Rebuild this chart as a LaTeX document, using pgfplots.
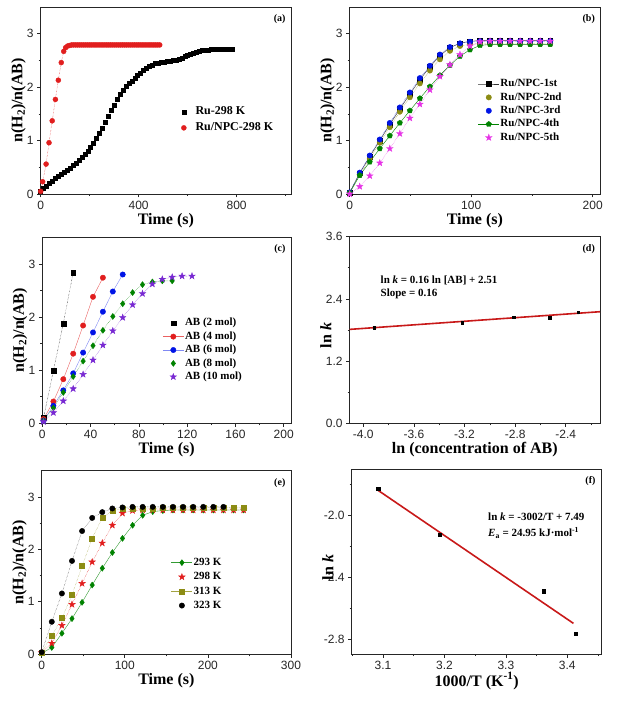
\documentclass[border=0pt]{standalone}
\usepackage{fontspec}
\setmainfont{Liberation Serif}
\newfontfamily\arial{Liberation Sans}
\usepackage{pgfplots}
\pgfplotsset{compat=1.18}
\usetikzlibrary{plotmarks}
\definecolor{cRed}{RGB}{225,30,30}
\definecolor{cOlive}{RGB}{140,140,20}
\definecolor{cBlue}{RGB}{0,20,230}
\definecolor{cGreen}{RGB}{0,130,0}
\definecolor{cMag}{RGB}{230,50,230}
\definecolor{cPurp}{RGB}{120,40,210}
\definecolor{cLine}{RGB}{200,25,25}
\pgfdeclareplotmark{fstar}{%
  \pgfpathmoveto{\pgfpointpolar{90}{1.25\pgfplotmarksize}}%
  \pgfpathlineto{\pgfpointpolar{126}{0.5\pgfplotmarksize}}%
  \pgfpathlineto{\pgfpointpolar{162}{1.25\pgfplotmarksize}}%
  \pgfpathlineto{\pgfpointpolar{198}{0.5\pgfplotmarksize}}%
  \pgfpathlineto{\pgfpointpolar{234}{1.25\pgfplotmarksize}}%
  \pgfpathlineto{\pgfpointpolar{270}{0.5\pgfplotmarksize}}%
  \pgfpathlineto{\pgfpointpolar{306}{1.25\pgfplotmarksize}}%
  \pgfpathlineto{\pgfpointpolar{342}{0.5\pgfplotmarksize}}%
  \pgfpathlineto{\pgfpointpolar{18}{1.25\pgfplotmarksize}}%
  \pgfpathlineto{\pgfpointpolar{54}{0.5\pgfplotmarksize}}%
  \pgfpathclose\pgfusepathqfillstroke}
\tikzset{plab/.style={font=\fontsize{10}{12}\selectfont\bfseries, anchor=center}}
\pgfplotsset{
  panel/.style={
    scale only axis, anchor=south west, clip=false,
    axis line style={line width=0.8pt, black!85},
    tick align=outside, xtick pos=bottom, ytick pos=left,
    major tick length=3.5pt, minor tick length=2pt,
    every tick/.style={black!85, line width=0.7pt},
    tick label style={font=\arial\fontsize{12}{13}\selectfont, text=black!85},
    /pgf/number format/assume math mode=true,
    every axis x label/.style={at={(axis description cs:0.5,0)}, yshift=-30.5pt, anchor=base,
      font=\fontsize{16}{18}\selectfont\bfseries},
    every axis y label/.style={at={(axis description cs:0,0.5)}, xshift=-18.4pt, rotate=90, anchor=base,
      font=\fontsize{16}{18}\selectfont\bfseries},
    legend style={draw=none, fill=none, font=\fontsize{11}{12}\selectfont\bfseries,
      inner sep=0pt, row sep=3pt,
      nodes={inner sep=1pt, text height=7.5pt, text depth=2pt}},
    legend cell align=left,
  },
  lineleg/.style={legend image code/.code={\draw[mark repeat=2,mark phase=2,solid] plot coordinates {(0pt,0pt)(10.5pt,0pt)(21pt,0pt)};}},
  markleg/.style={legend image code/.code={\draw[only marks] plot coordinates {(10.5pt,0pt)};\path (0pt,0pt) (21pt,0pt);}},
}
\begin{document}
\begin{tikzpicture}[x=1pt,y=1pt]
\useasboundingbox (0,0) rectangle (618,702);
% ---------------- (a)
\begin{axis}[panel, at={(40.7pt,508pt)}, width=250.3pt, height=187pt,
  xmin=0, xmax=1022, ymin=0, ymax=3.5,
  xtick={0,400,800}, minor xtick={200,600,1000},
  ytick={0,1,2,3}, minor ytick={0.5,1.5,2.5},
  xlabel={Time (s)}, ylabel={n(H\textsubscript{2})/n(AB)},
  legend style={at={(axis cs:540,1.645)}, anchor=north west, row sep=4.3pt},
  legend style={font=\fontsize{12}{13}\selectfont\bfseries}]
\addplot[markleg, draw=none, mark=square*, mark size=2pt, black] coordinates {
(0,0.06)(12,0.10)(24,0.15)(36,0.20)(48,0.24)(60,0.29)(72,0.33)(84,0.37)(96,0.41)(108,0.45)(120,0.49)(132,0.53)(144,0.58)(156,0.63)(168,0.68)(180,0.74)(192,0.80)(204,0.87)(216,0.95)(228,1.04)(240,1.14)(252,1.24)(264,1.34)(276,1.45)(288,1.56)(300,1.67)(312,1.77)(324,1.86)(336,1.94)(348,2.01)(360,2.07)(372,2.12)(384,2.17)(396,2.22)(408,2.27)(420,2.31)(432,2.35)(444,2.39)(456,2.42)(468,2.44)(480,2.45)(492,2.46)(504,2.47)(516,2.48)(528,2.49)(540,2.50)(552,2.51)(564,2.53)(576,2.55)(588,2.57)(600,2.59)(612,2.61)(624,2.63)(636,2.66)(648,2.68)(660,2.69)(672,2.70)(684,2.70)(696,2.71)(708,2.71)(720,2.71)(732,2.71)(744,2.71)(756,2.71)(768,2.71)(780,2.71)};
\addlegendentry{Ru-298 K}
\addplot[markleg, cRed, densely dotted, thin, mark=*, mark size=2.5pt, mark options={solid}] coordinates {
(0,0.05)(8,0.23)(22,0.56)(34,0.96)(47,1.37)(60,1.77)(72,2.13)(84,2.46)(94,2.67)(102,2.74)(110,2.77)(118,2.78)(126,2.79)(134,2.79)(142,2.79)(150,2.79)(158,2.79)(166,2.79)(174,2.79)(182,2.79)(190,2.79)(198,2.79)(206,2.79)(214,2.79)(222,2.79)(230,2.79)(238,2.79)(246,2.79)(254,2.79)(262,2.79)(270,2.79)(278,2.79)(286,2.79)(294,2.79)(302,2.79)(310,2.79)(318,2.79)(326,2.79)(334,2.79)(342,2.79)(350,2.79)(358,2.79)(366,2.79)(374,2.79)(382,2.79)(390,2.79)(398,2.79)(406,2.79)(414,2.79)(422,2.79)(430,2.79)(438,2.79)(446,2.79)(454,2.79)(462,2.79)(470,2.79)(478,2.79)(486,2.79)};
\addlegendentry{Ru/NPC-298 K}
\node[plab] at (rel axis cs:0.955,0.935) {(a)};
\end{axis}
% ---------------- (b)
\begin{axis}[panel, at={(349.7pt,508pt)}, width=250.3pt, height=187pt,
  xmin=0, xmax=206, ymin=0, ymax=3.5,
  xtick={0,100,200}, minor xtick={50,150},
  ytick={0,1,2,3}, minor ytick={0.5,1.5,2.5},
  xlabel={Time (s)}, ylabel={n(H\textsubscript{2})/n(AB)},
  legend style={at={(axis cs:105.5,2.17)}, anchor=north west, row sep=1.9pt}]
\addplot[lineleg, black!80, thin, mark=square*, mark size=2.4pt, mark options={black}] coordinates {
(0,0.03)(8.25,0.39)(16.5,0.70)(24.75,1.00)(33,1.30)(41.25,1.59)(49.5,1.87)(57.75,2.14)(66,2.38)(74.25,2.59)(82.5,2.74)(90.75,2.82)(99,2.86)(107.25,2.87)(115.5,2.87)(123.75,2.87)(132,2.87)(140.25,2.87)(148.5,2.87)(156.75,2.87)(165,2.87)};
\addlegendentry{Ru/NPC-1st}
\addplot[markleg, cOlive, densely dotted, thin, mark=*, mark size=2.7pt, mark options={solid}] coordinates {
(0,0.02)(8.25,0.36)(16.5,0.66)(24.75,0.96)(33,1.25)(41.25,1.54)(49.5,1.81)(57.75,2.07)(66,2.31)(74.25,2.52)(82.5,2.68)(90.75,2.77)(99,2.80)(107.25,2.81)(115.5,2.81)(123.75,2.81)(132,2.81)(140.25,2.81)(148.5,2.81)(156.75,2.81)(165,2.81)};
\addlegendentry{Ru/NPC-2nd}
\addplot[markleg, cBlue, densely dotted, thin, mark=*, mark size=2.7pt, mark options={solid}] coordinates {
(0,0.03)(8.25,0.40)(16.5,0.72)(24.75,1.02)(33,1.33)(41.25,1.62)(49.5,1.90)(57.75,2.17)(66,2.40)(74.25,2.61)(82.5,2.75)(90.75,2.82)(99,2.85)(107.25,2.86)(115.5,2.86)(123.75,2.86)(132,2.86)(140.25,2.86)(148.5,2.86)(156.75,2.86)(165,2.86)};
\addlegendentry{Ru/NPC-3rd}
\addplot[lineleg, cGreen, thin, mark=pentagon*, mark size=2.8pt] coordinates {
(0,0.02)(8.25,0.35)(16.5,0.60)(24.75,0.85)(33,1.09)(41.25,1.33)(49.5,1.56)(57.75,1.79)(66,2.01)(74.25,2.22)(82.5,2.41)(90.75,2.58)(99,2.70)(107.25,2.78)(115.5,2.80)(123.75,2.80)(132,2.80)(140.25,2.80)(148.5,2.80)(156.75,2.80)(165,2.80)};
\addlegendentry{Ru/NPC-4th}
\addplot[markleg, cMag, densely dotted, thin, mark=fstar, mark size=2.7pt, mark options={solid}] coordinates {
(0,0.0)(8.25,0.14)(16.5,0.34)(24.75,0.58)(33,0.85)(41.25,1.13)(49.5,1.42)(57.75,1.68)(66,1.95)(74.25,2.20)(82.5,2.42)(90.75,2.61)(99,2.77)(107.25,2.85)(115.5,2.86)(123.75,2.86)(132,2.86)(140.25,2.86)(148.5,2.86)(156.75,2.86)(165,2.86)};
\addlegendentry{Ru/NPC-5th}
\node[plab] at (rel axis cs:0.955,0.935) {(b)};
\end{axis}
% ---------------- (c)
\begin{axis}[panel, at={(42.3pt,278.7pt)}, width=248.7pt, height=186pt,
  xmin=0, xmax=206, ymin=0, ymax=3.5,
  xtick={0,40,80,120,160,200}, minor xtick={20,60,100,140,180},
  ytick={0,1,2,3}, minor ytick={0.5,1.5,2.5},
  xlabel={Time (s)}, ylabel={n(H\textsubscript{2})/n(AB)},
  legend style={at={(axis cs:99.5,1.995)}, anchor=north west, row sep=1.9pt}]
\addplot[markleg, black, densely dotted, thin, mark=square*, mark size=2.4pt, mark options={solid}] coordinates {
(1,0.10)(9.2,0.99)(17.4,1.88)(25.6,2.84)};
\addlegendentry{AB (2 mol)}
\addplot[lineleg, cRed!70, thin, mark=*, mark size=2.7pt, mark options={cRed}] coordinates {
(1,0.08)(9.2,0.41)(17.4,0.83)(25.6,1.31)(33.8,1.84)(42,2.38)(50.2,2.74)};
\addlegendentry{AB (4 mol)}
\addplot[lineleg, cBlue!50, thin, mark=*, mark size=2.7pt, mark options={cBlue}] coordinates {
(1,0.05)(9.2,0.33)(17.4,0.62)(25.6,0.94)(33.8,1.33)(42,1.71)(50.2,2.10)(58.4,2.48)(66.6,2.80)};
\addlegendentry{AB (6 mol)}
\addplot[markleg, cGreen, densely dotted, thin, mark=diamond*, mark size=3pt, mark options={solid}] coordinates {
(1,0.05)(9.2,0.29)(17.4,0.58)(25.6,0.88)(33.8,1.17)(42,1.46)(50.2,1.75)(58.4,2.01)(66.6,2.25)(74.8,2.46)(83,2.61)(91.2,2.66)(99.4,2.68)(107.6,2.68)};
\addlegendentry{AB (8 mol)}
\addplot[markleg, cPurp, densely dotted, thin, mark=fstar, mark size=2.7pt, mark options={solid}] coordinates {
(1,0.03)(9.2,0.20)(17.4,0.42)(25.6,0.65)(33.8,0.92)(42,1.19)(50.2,1.47)(58.4,1.74)(66.6,1.99)(74.8,2.23)(83,2.44)(91.2,2.62)(99.4,2.71)(107.6,2.75)(115.8,2.77)(124,2.77)};
\addlegendentry{AB (10 mol)}
\node[plab] at (rel axis cs:0.955,0.935) {(c)};
\end{axis}
% ---------------- (d)
\begin{axis}[panel, at={(349.7pt,278.7pt)}, width=250.3pt, height=186.6pt,
  xmin=-4.107, xmax=-2.13, ymin=0, ymax=3.6,
  xtick={-4.0,-3.6,-3.2,-2.8,-2.4}, minor xtick={-3.8,-3.4,-3.0,-2.6,-2.2},
  ytick={0,1.2,2.4,3.6}, minor ytick={0.6,1.8,3.0},
  xticklabel style={/pgf/number format/.cd, fixed, fixed zerofill, precision=1},
  yticklabel style={/pgf/number format/.cd, fixed, fixed zerofill, precision=1},
  every axis y label/.append style={xshift=-5.6pt},
  xlabel={ln (concentration of AB)}, ylabel={ln \textit{k}}]
\addplot[only marks, black, mark=square*, mark size=1.3pt] coordinates {
(-3.912,1.85)(-3.219,1.94)(-2.813,2.05)(-2.526,2.04)(-2.303,2.14)};
\addplot[cLine, line width=1.6pt, no marks] coordinates {(-4.107,1.812)(-2.13,2.153)};
\node[font=\fontsize{11}{12}\selectfont\bfseries, anchor=base west] at (axis cs:-3.89,2.7) {ln \textit{k} = 0.16 ln [AB] + 2.51};
\node[font=\fontsize{11}{12}\selectfont\bfseries, anchor=base west] at (axis cs:-3.89,2.45) {Slope = 0.16};
\node[plab] at (rel axis cs:0.955,0.935) {(d)};
\end{axis}
% ---------------- (e)
\begin{axis}[panel, at={(41.7pt,47.7pt)}, width=249.3pt, height=183.6pt,
  xmin=0, xmax=300, ymin=0, ymax=3.5,
  xtick={0,100,200,300}, minor xtick={50,150,250},
  ytick={0,1,2,3}, minor ytick={0.5,1.5,2.5},
  xlabel={Time (s)}, ylabel={n(H\textsubscript{2})/n(AB)},
  legend style={at={(axis cs:155.6,1.86)}, anchor=north west, row sep=2.8pt}]
\addplot[lineleg, cGreen!80, thin, mark=diamond*, mark size=3pt, mark options={cGreen}] coordinates {
(0,0.02)(12.15,0.13)(24.3,0.40)(36.45,0.68)(48.6,0.99)(60.75,1.32)(72.9,1.64)(85.05,1.94)(97.2,2.21)(109.35,2.46)(121.5,2.65)(133.65,2.72)(145.8,2.74)(157.95,2.75)(170.1,2.75)(182.25,2.75)(194.4,2.75)(206.55,2.75)(218.7,2.75)(230.85,2.75)(243,2.75)};
\addlegendentry{293 K}
\addplot[markleg, cRed, densely dotted, thin, mark=fstar, mark size=2.7pt, mark options={solid}] coordinates {
(0,0.03)(12.15,0.21)(24.3,0.55)(36.45,0.95)(48.6,1.35)(60.75,1.76)(72.9,2.12)(85.05,2.46)(97.2,2.69)(109.35,2.74)(121.5,2.75)(133.65,2.75)(145.8,2.75)(157.95,2.75)(170.1,2.75)(182.25,2.75)(194.4,2.75)(206.55,2.75)(218.7,2.75)(230.85,2.75)(243,2.75)};
\addlegendentry{298 K}
\addplot[lineleg, cOlive!80, densely dotted, thin, mark=square*, mark size=2.5pt, mark options={solid, cOlive}] coordinates {
(0,0.04)(12.15,0.35)(24.3,0.69)(36.45,1.13)(48.6,1.68)(60.75,2.21)(72.9,2.60)(85.05,2.74)(97.2,2.77)(109.35,2.78)(121.5,2.78)(133.65,2.78)(145.8,2.79)(157.95,2.79)(170.1,2.79)(182.25,2.79)(194.4,2.79)(206.55,2.80)(218.7,2.80)(230.85,2.80)(243,2.80)};
\addlegendentry{313 K}
\addplot[markleg, black!80, densely dotted, thin, mark=*, mark size=2.7pt, mark options={solid, black}] coordinates {
(0,0.04)(12.15,0.62)(24.3,1.16)(36.45,1.78)(48.6,2.35)(60.75,2.60)(72.9,2.71)(85.05,2.78)(97.2,2.80)(109.35,2.81)(121.5,2.81)(133.65,2.81)(145.8,2.81)(157.95,2.81)(170.1,2.81)(182.25,2.81)(194.4,2.81)(206.55,2.81)(218.7,2.81)};
\addlegendentry{323 K}
\node[plab] at (rel axis cs:0.955,0.935) {(e)};
\end{axis}
% ---------------- (f)
\begin{axis}[panel, at={(351.7pt,48pt)}, width=250pt, height=185pt,
  xmin=3.049, xmax=3.456, ymin=-2.894, ymax=-1.704,
  xtick={3.1,3.2,3.3,3.4}, minor xtick={3.05,3.15,3.25,3.35,3.45},
  ytick={-2.8,-2.4,-2.0}, minor ytick={-2.6,-2.2,-1.8},
  xticklabel style={/pgf/number format/.cd, fixed, fixed zerofill, precision=1},
  yticklabel style={/pgf/number format/.cd, fixed, fixed zerofill, precision=1},
  every axis y label/.append style={xshift=-6pt},
  every axis x label/.append style={yshift=-1.5pt},
  xlabel={1000/T (K\textsuperscript{-1})}, ylabel={ln \textit{k}}]
\addplot[only marks, black, mark=square*, mark size=1.7pt] coordinates {
(3.092,-1.830)(3.192,-2.127)(3.362,-2.491)(3.414,-2.762)};
\addplot[cLine, line width=1.6pt, no marks] coordinates {(3.09,-1.836)(3.41,-2.697)};
\node[font=\fontsize{11}{12}\selectfont\bfseries, anchor=base west] at (axis cs:3.2655,-2.035) {ln \textit{k} = -3002/T + 7.49};
\node[font=\fontsize{11}{12}\selectfont\bfseries, anchor=base west] at (axis cs:3.2655,-2.14) {\textit{E}\textsubscript{a} = 24.95 kJ·mol\textsuperscript{-1}};
\node[plab] at (rel axis cs:0.955,0.935) {(f)};
\end{axis}
\end{tikzpicture}
\end{document}
